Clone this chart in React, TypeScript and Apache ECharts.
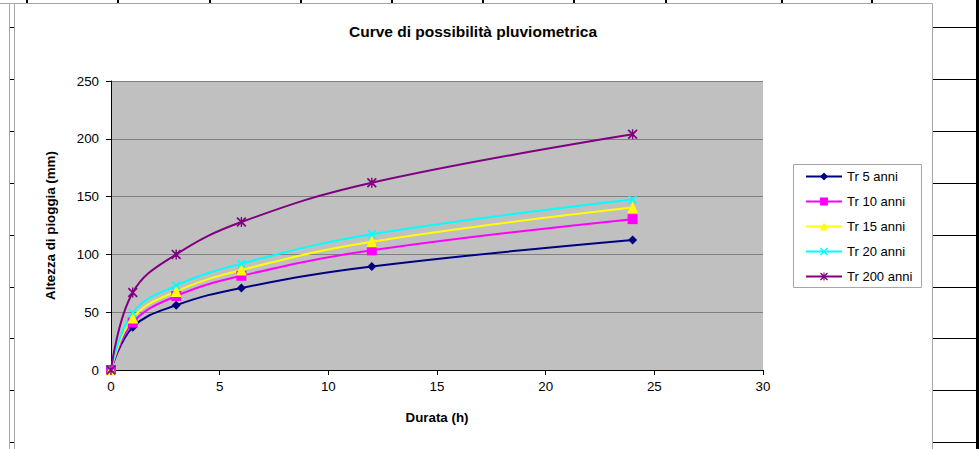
import React, { useEffect, useRef } from "react";
import * as echarts from "echarts";

const durations = [0, 1, 3, 6, 12, 24];
const tr5 = [0, 37, 56, 71, 89.5, 112.5];
const tr10 = [0, 41, 64, 81.5, 103.5, 130.5];
const tr15 = [0, 45, 68, 86.5, 111, 140.5];
const tr20 = [0, 49.5, 73, 92, 117.5, 147.5];
const tr200 = [0, 67, 100, 128, 162, 204];
const seriesNames = ["Tr 5 anni", "Tr 10 anni", "Tr 15 anni", "Tr 20 anni", "Tr 200 anni"];

const FONT = "'Liberation Sans', Arial, sans-serif";
const X_SYMBOL =
  "path://M0,1.2L1.2,0L5,3.8L8.8,0L10,1.2L6.2,5L10,8.8L8.8,10L5,6.2L1.2,10L0,8.8L3.8,5Z";
const STAR_SYMBOL =
  "path://M0,1.2L1.2,0L5,3.8L8.8,0L10,1.2L6.2,5L10,8.8L8.8,10L5,6.2L1.2,10L0,8.8L3.8,5Z M4.3,0L5.7,0L5.7,10L4.3,10Z";

const rowLines = [27, 79, 131, 183, 235, 287, 338, 390, 442];
const colTicks = [27, 118, 210, 301, 392, 483, 574, 666, 782, 872];

function pairs(vals: number[]) {
  return durations.map((d, i) => [d, vals[i]]);
}

export default function App() {
  const ref = useRef<HTMLDivElement>(null);
  useEffect(() => {
    if (!ref.current) return;
    const chart = echarts.init(ref.current, undefined, { renderer: "svg" });
    const gray = "#a6a6a6";
    const graphics: any[] = [];
    rowLines.forEach((y) => {
      graphics.push({
        type: "line",
        silent: true,
        shape: { x1: 10, y1: y + 0.5, x2: 14, y2: y + 0.5 },
        style: { stroke: "#000", lineWidth: 1 },
      });
      graphics.push({
        type: "line",
        silent: true,
        shape: { x1: 933, y1: y + 0.5, x2: 976, y2: y + 0.5 },
        style: { stroke: "#000", lineWidth: 1 },
      });
    });
    colTicks.forEach((x) => {
      graphics.push({
        type: "line",
        silent: true,
        shape: { x1: x, y1: 0, x2: x, y2: 3 },
        style: { stroke: "#000", lineWidth: 2 },
      });
    });
    graphics.push({
      type: "rect",
      silent: true,
      shape: { x: 976, y: 0, width: 3, height: 449 },
      style: { fill: "#000" },
    });
    graphics.push({
      type: "polyline",
      silent: true,
      shape: { points: [[0, 3.5], [932.5, 3.5], [932.5, 449]] },
      style: { stroke: gray, lineWidth: 1, fill: null },
    });
    graphics.push({
      type: "line",
      silent: true,
      shape: { x1: 9.5, y1: 3.5, x2: 9.5, y2: 449 },
      style: { stroke: gray, lineWidth: 1 },
    });
    graphics.push({
      type: "line",
      silent: true,
      shape: { x1: 14.5, y1: 3.5, x2: 14.5, y2: 449 },
      style: { stroke: gray, lineWidth: 1 },
    });
    graphics.push({
      type: "rect",
      silent: true,
      shape: { x: 793.5, y: 164.5, width: 128, height: 123 },
      style: { fill: "#fff", stroke: gray, lineWidth: 1 },
    });

    const mk = (name: string, vals: number[], color: string, symbol: string, size: number) => ({
      name,
      type: "line",
      data: pairs(vals),
      smooth: 0.4,
      symbol,
      symbolSize: size,
      showSymbol: true,
      lineStyle: { color, width: 2 },
      itemStyle: { color, borderWidth: 0 },
      z: 3,
    });

    chart.setOption({
      animation: false,
      backgroundColor: "#fff",
      textStyle: { fontFamily: FONT },
      title: {
        text: "Curve di possibilità pluviometrica",
        left: 468,
        textAlign: "center",
        top: 18,
        textStyle: { fontFamily: FONT, fontWeight: "bold", fontSize: 15.5, color: "#000" },
      },
      graphic: graphics,
      legend: {
        orient: "vertical",
        left: 793,
        top: 165,
        padding: [5, 12, 5, 12],
        itemWidth: 36,
        itemHeight: 10,
        itemGap: 12,
        data: seriesNames,
        textStyle: { fontFamily: FONT, fontSize: 13, color: "#000" },
      },
      grid: {
        left: 111,
        top: 81,
        width: 652,
        height: 289,
        show: true,
        backgroundColor: "#c0c0c0",
        borderWidth: 0,
      },
      xAxis: {
        type: "value",
        min: 0,
        max: 30,
        interval: 5,
        name: "Durata (h)",
        nameLocation: "middle",
        nameGap: 41,
        nameTextStyle: { fontFamily: FONT, fontWeight: "bold", fontSize: 13.33, color: "#000" },
        axisLine: { show: true, lineStyle: { color: "#000", width: 1 } },
        axisTick: { show: true, inside: false, length: 5, lineStyle: { color: "#000" } },
        axisLabel: { color: "#000", fontFamily: FONT, fontSize: 13.33, margin: 10 },
        splitLine: { show: false },
      },
      yAxis: {
        type: "value",
        min: 0,
        max: 250,
        interval: 50,
        name: "Altezza di pioggia (mm)",
        nameLocation: "middle",
        nameGap: 54,
        nameRotate: 90,
        nameTextStyle: { fontFamily: FONT, fontWeight: "bold", fontSize: 13.33, color: "#000" },
        axisLine: { show: true, lineStyle: { color: "#000", width: 1 } },
        axisTick: { show: true, inside: false, length: 5, lineStyle: { color: "#000" } },
        axisLabel: { color: "#000", fontFamily: FONT, fontSize: 13.33, margin: 12 },
        splitLine: { show: true, lineStyle: { color: "#808080", width: 1 } },
      },
      series: [
        mk(seriesNames[0], tr5, "#000080", "diamond", 9),
        mk(seriesNames[1], tr10, "#FF00FF", "rect", 10),
        mk(seriesNames[2], tr15, "#FFFF00", "triangle", 11),
        mk(seriesNames[3], tr20, "#00FFFF", X_SYMBOL, 9),
        mk(seriesNames[4], tr200, "#800080", STAR_SYMBOL, 10),
      ],
    });
    return () => chart.dispose();
  }, []);
  return (
    <div
      ref={ref}
      style={{ position: "fixed", left: 0, top: 0, width: 979, height: 449, background: "#fff" }}
    />
  );
}
